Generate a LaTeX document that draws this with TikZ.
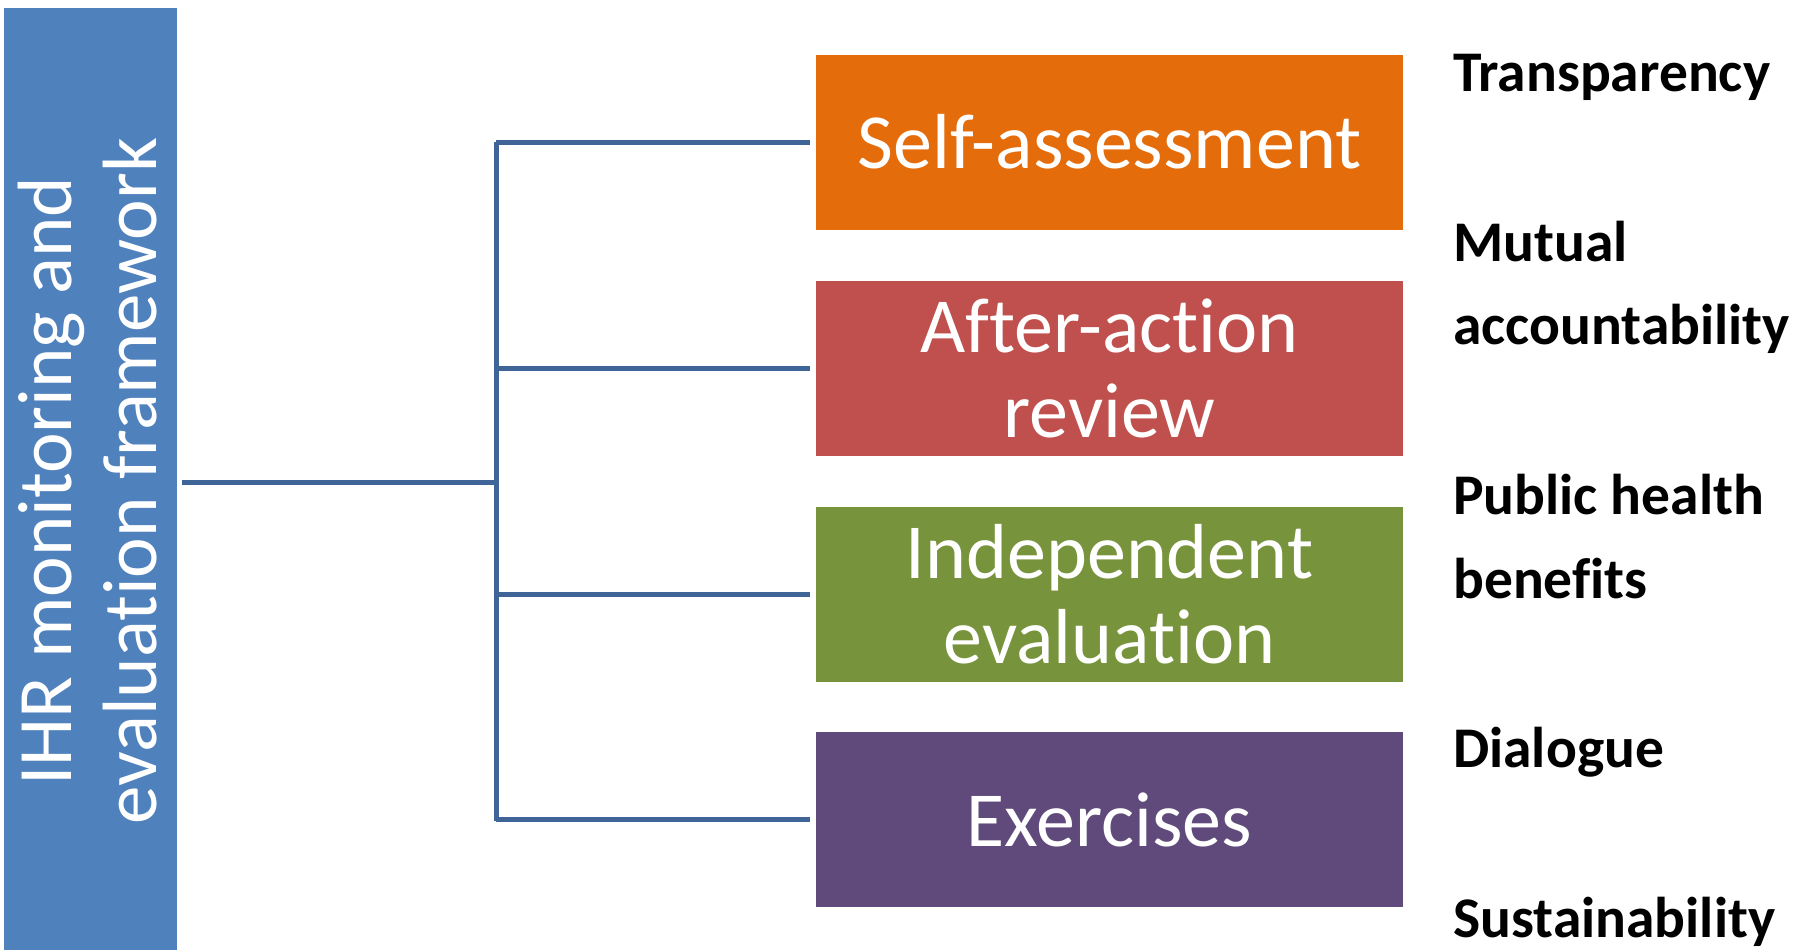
\documentclass[tikz,border=0pt]{standalone}
\usepackage{fontspec}
\setmainfont{Carlito}[Ligatures=NoCommon]
\definecolor{barblue}{HTML}{4F81BD}
\definecolor{linecol}{HTML}{3F6598}
\definecolor{c1}{HTML}{E46C0A}
\definecolor{c2}{HTML}{C0504D}
\definecolor{c3}{HTML}{77933C}
\definecolor{c4}{HTML}{604A7B}
\tikzset{
  boxnode/.style={rectangle, minimum width=587pt, minimum height=175pt, inner sep=0pt,
    text=white, align=center, font=\fontsize{78}{85}\selectfont},
  lbl/.style={anchor=base west, inner sep=0pt, font=\fontsize{57.5}{60}\selectfont\bfseries},
  conn/.style={draw=linecol, line width=5pt}
}
\begin{document}
\begin{tikzpicture}[x=1pt,y=-1pt]
\useasboundingbox (0,0) rectangle (1810,950);
\node[fill=barblue, minimum width=173pt, minimum height=941.5pt, inner sep=0pt] (bar) at (90.5,479.25) {};
\node[rotate=90, text=white, align=center, inner sep=0pt, font=\fontsize{77}{85}\selectfont] (bartext) at (88,481) {IHR monitoring and\\evaluation framework};
\node[boxnode, fill=c1] (b1) at (1109.5,142.5) {\raisebox{3pt}{Self-assessment}};
\node[boxnode, fill=c2] (b2) at (1109.5,368.5) {After-action\\review};
\node[boxnode, fill=c3] (b3) at (1109.5,594) {Independent\\evaluation};
\node[boxnode, fill=c4] (b4) at (1109.5,819.5) {Exercises};
\coordinate (hub) at (496,482);
\draw[conn] ([xshift=5pt]bar.east |- hub) -- (hub);
\draw[conn] (496,142) -- (496,821);
\draw[conn] (hub |- b1.west) -- ([xshift=-6pt]b1.west);
\draw[conn] (hub |- b2.west) -- ([xshift=-6pt]b2.west);
\draw[conn] (hub |- b3.west) -- ([xshift=-6pt]b3.west);
\draw[conn] (hub |- b4.west) -- ([xshift=-6pt]b4.west);
\node[lbl] (l1) at (1453,92) {Transparency};
\node[lbl] (l2) at (1453,261) {Mutual};
\node[lbl] (l2b) at (1453,344) {accountability};
\node[lbl] (l3) at (1453,514) {Public health};
\node[lbl] (l3b) at (1453,598) {benefits};
\node[lbl] (l4) at (1453,767) {Dialogue};
\node[lbl] (l5) at (1453,937) {Sustainability};
\end{tikzpicture}
\end{document}
